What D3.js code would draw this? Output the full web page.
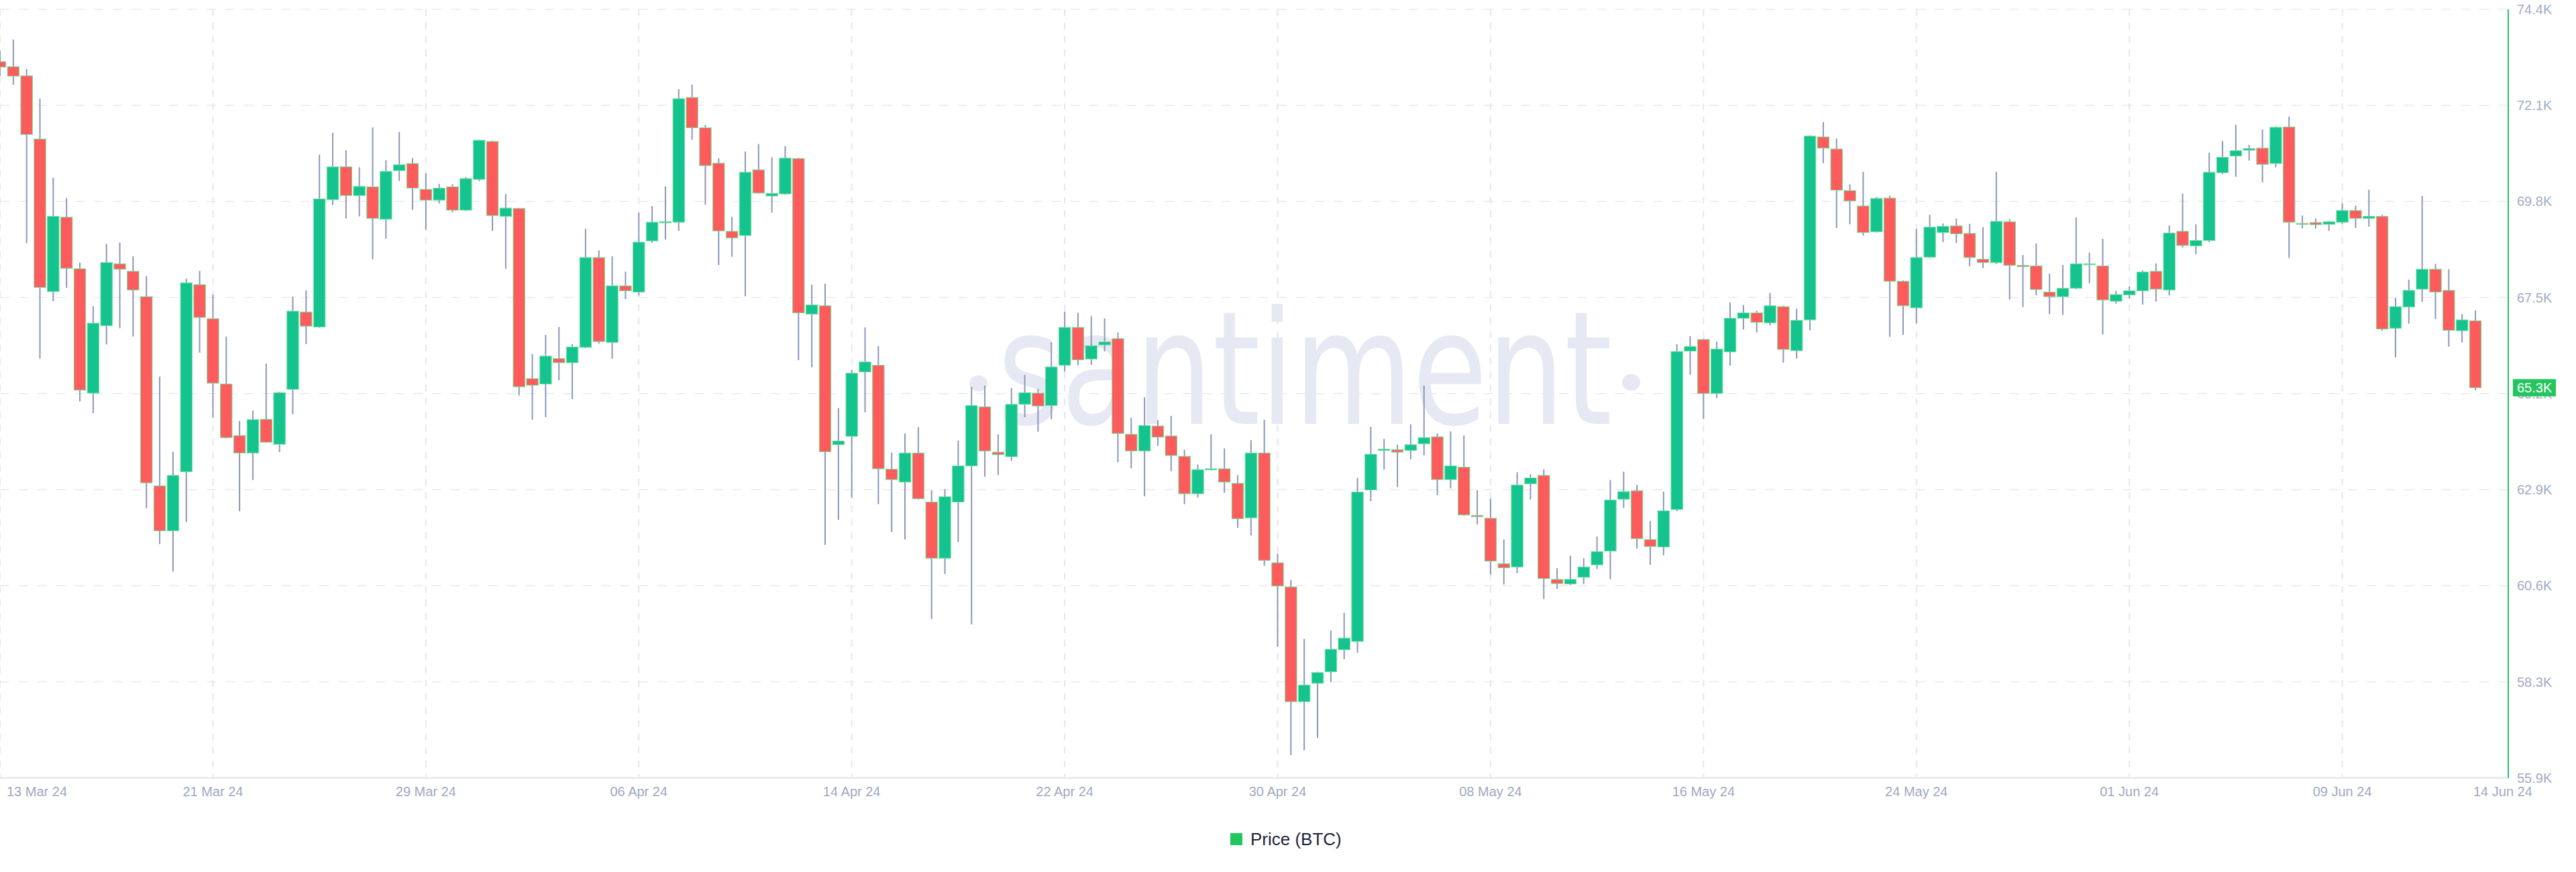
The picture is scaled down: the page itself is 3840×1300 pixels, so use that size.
<!DOCTYPE html>
<html><head><meta charset="utf-8">
<script src="https://cdn.jsdelivr.net/npm/d3@7"></script>
<style>html,body{margin:0;padding:0;background:#fff;} svg{display:block;}</style>
</head><body>
<svg id="chart" width="3840" height="1300"></svg>
<script>
// ---- data (12h BTC candles) ----
const times = [
"2024-03-13 00","2024-03-13 12","2024-03-14 00","2024-03-14 12","2024-03-15 00","2024-03-15 12","2024-03-16 00","2024-03-16 12","2024-03-17 00","2024-03-17 12",
"2024-03-18 00","2024-03-18 12","2024-03-19 00","2024-03-19 12","2024-03-20 00","2024-03-20 12","2024-03-21 00","2024-03-21 12","2024-03-22 00","2024-03-22 12",
"2024-03-23 00","2024-03-23 12","2024-03-24 00","2024-03-24 12","2024-03-25 00","2024-03-25 12","2024-03-26 00","2024-03-26 12","2024-03-27 00","2024-03-27 12",
"2024-03-28 00","2024-03-28 12","2024-03-29 00","2024-03-29 12","2024-03-30 00","2024-03-30 12","2024-03-31 00","2024-03-31 12","2024-04-01 00","2024-04-01 12",
"2024-04-02 00","2024-04-02 12","2024-04-03 00","2024-04-03 12","2024-04-04 00","2024-04-04 12","2024-04-05 00","2024-04-05 12","2024-04-06 00","2024-04-06 12",
"2024-04-07 00","2024-04-07 12","2024-04-08 00","2024-04-08 12","2024-04-09 00","2024-04-09 12","2024-04-10 00","2024-04-10 12","2024-04-11 00","2024-04-11 12",
"2024-04-12 00","2024-04-12 12","2024-04-13 00","2024-04-13 12","2024-04-14 00","2024-04-14 12","2024-04-15 00","2024-04-15 12","2024-04-16 00","2024-04-16 12",
"2024-04-17 00","2024-04-17 12","2024-04-18 00","2024-04-18 12","2024-04-19 00","2024-04-19 12","2024-04-20 00","2024-04-20 12","2024-04-21 00","2024-04-21 12",
"2024-04-22 00","2024-04-22 12","2024-04-23 00","2024-04-23 12","2024-04-24 00","2024-04-24 12","2024-04-25 00","2024-04-25 12","2024-04-26 00","2024-04-26 12",
"2024-04-27 00","2024-04-27 12","2024-04-28 00","2024-04-28 12","2024-04-29 00","2024-04-29 12","2024-04-30 00","2024-04-30 12","2024-05-01 00","2024-05-01 12",
"2024-05-02 00","2024-05-02 12","2024-05-03 00","2024-05-03 12","2024-05-04 00","2024-05-04 12","2024-05-05 00","2024-05-05 12","2024-05-06 00","2024-05-06 12",
"2024-05-07 00","2024-05-07 12","2024-05-08 00","2024-05-08 12","2024-05-09 00","2024-05-09 12","2024-05-10 00","2024-05-10 12","2024-05-11 00","2024-05-11 12",
"2024-05-12 00","2024-05-12 12","2024-05-13 00","2024-05-13 12","2024-05-14 00","2024-05-14 12","2024-05-15 00","2024-05-15 12","2024-05-16 00","2024-05-16 12",
"2024-05-17 00","2024-05-17 12","2024-05-18 00","2024-05-18 12","2024-05-19 00","2024-05-19 12","2024-05-20 00","2024-05-20 12","2024-05-21 00","2024-05-21 12",
"2024-05-22 00","2024-05-22 12","2024-05-23 00","2024-05-23 12","2024-05-24 00","2024-05-24 12","2024-05-25 00","2024-05-25 12","2024-05-26 00","2024-05-26 12",
"2024-05-27 00","2024-05-27 12","2024-05-28 00","2024-05-28 12","2024-05-29 00","2024-05-29 12","2024-05-30 00","2024-05-30 12","2024-05-31 00","2024-05-31 12",
"2024-06-01 00","2024-06-01 12","2024-06-02 00","2024-06-02 12","2024-06-03 00","2024-06-03 12","2024-06-04 00","2024-06-04 12","2024-06-05 00","2024-06-05 12",
"2024-06-06 00","2024-06-06 12","2024-06-07 00","2024-06-07 12","2024-06-08 00","2024-06-08 12","2024-06-09 00","2024-06-09 12","2024-06-10 00","2024-06-10 12",
"2024-06-11 00","2024-06-11 12","2024-06-12 00","2024-06-12 12","2024-06-13 00","2024-06-13 12","2024-06-14 00"
];
const open = [73140,73020,72800,71280,67610,69400,68160,65170,66790,68280,
68100,67490,62940,61860,63280,67780,66960,65390,64150,63730,
64540,63940,65260,67120,66760,69820,70610,69920,70130,69350,
70520,70690,70070,69810,70130,69570,70310,71220,69420,69610,
65520,65390,66000,65900,66270,68430,66390,67750,67600,68830,
69280,69280,72280,71550,70700,69060,68960,70540,69910,69960,
70810,67070,67270,63930,64130,65680,65840,63340,63030,63730,
62550,61200,62550,63420,64840,63750,63640,64900,65170,64870,
65840,66750,65990,66330,66480,64180,63780,64380,64140,63650,
62750,63330,63350,63000,62170,63730,61090,60510,57750,58190,
58470,59000,59200,62840,63790,63810,63790,63950,64120,63090,
63390,62230,62160,61070,60990,62990,63190,60690,60580,60740,
61040,61370,62620,62820,61650,61470,62370,66180,66460,65160,
66160,66970,67100,66860,67250,66190,66930,71330,71040,70040,
69670,69050,69860,67860,67220,68440,69030,69190,69010,68390,
68310,69290,68240,68230,67600,67490,67690,68270,68230,67380,
67530,67630,68100,67650,69060,68710,68840,70470,70870,71010,
71060,70690,71570,69250,69270,69230,69280,69560,69370,69420,
66730,67240,67670,68150,67640,66670,66910];
const high = [73410,73670,72960,72250,70350,69860,68310,67260,68760,68790,
68460,67980,65570,63760,67920,68110,67540,66530,64500,64750,
65880,65200,67490,67640,70900,71430,71010,70600,71560,70770,
71450,70820,70460,70200,70190,70370,71260,71240,69960,69620,
66110,66570,66760,66350,69120,68600,68460,68090,69510,69670,
70140,72480,72590,71620,70820,69410,70980,71160,70840,71110,
70830,67780,67800,64810,65730,66750,66300,63740,64200,64350,
62840,62860,64030,65320,65350,64180,65290,65610,65270,66400,
67130,67100,67020,66970,66630,64580,65070,64520,64620,63810,
63450,64180,63840,63200,64040,64530,61310,60680,59260,58470,
59460,59890,63130,64360,64070,63930,64420,65350,64200,64250,
64150,62840,62630,61650,63270,63220,63340,60960,61260,61200,
61720,63080,63280,62960,62100,62800,66350,66540,66480,66410,
67350,67290,67150,67580,67270,67200,71370,71690,71290,70190,
70490,69890,69920,67880,69120,69460,69250,69370,69240,69160,
70490,69350,68490,68770,68040,68250,69390,68550,68880,67630,
67740,68120,68290,69200,69970,69230,70950,71230,71620,71140,
71510,71580,71820,69440,69370,69310,69730,69680,70060,69460,
67460,67900,69910,68280,68150,67070,67160];
const low = [72800,72580,68780,66000,67380,67700,64970,64690,66340,66730,
66530,62400,61540,60880,62070,66140,64580,64080,62330,63080,
63980,63750,64660,66350,66740,69690,69370,69420,68390,68880,
70270,69580,69100,69730,69520,69550,70270,69070,68160,65110,
64530,64590,65480,65030,66250,66360,66000,67430,67520,68780,
68860,69070,71260,69700,68250,68450,67500,69970,69510,69940,
65960,65790,61520,62120,62660,64710,62500,61830,61650,62610,
59740,60820,61590,59610,63160,63200,63540,64590,64240,64540,
65690,65840,65850,66170,63510,63360,62690,63900,63290,62500,
62660,63310,62770,61930,61750,61020,59070,56470,56580,56880,
58220,58770,58930,62570,63330,62910,63580,63670,62720,62880,
62220,62010,60810,60570,60840,62610,60220,60460,60550,60580,
60940,60700,62410,61430,61040,61270,62330,65610,64550,65050,
65830,66700,66630,66800,65900,66000,66680,70700,69140,69230,
68960,69030,66520,66570,66850,68420,68800,68780,68220,68180,
68270,67420,67240,67520,67070,67050,67670,67810,66580,67320,
67440,67300,67370,67520,68670,68510,68800,70430,70370,70760,
70240,70600,68420,69130,69130,69070,69240,69140,69170,66670,
66030,66840,67360,66950,66290,66390,65240];
const close = [73010,72790,71390,67710,69420,68170,65240,66850,68310,68150,
67650,63010,61860,63190,67820,66990,65410,64100,63730,64530,
63990,65180,67140,66780,69840,70610,69920,70140,69370,70500,
70660,70100,69810,70100,69570,70330,71250,69440,69620,65320,
65360,66060,65900,66280,68430,66410,67750,67630,68800,69280,
69290,72250,71550,70640,69070,68900,70480,69980,69970,70820,
67100,67290,63760,64020,65650,65920,63350,63090,63730,62630,
61200,62680,63420,64870,63780,63690,64900,65180,64860,65800,
66750,65970,66310,66400,64200,63780,64390,64110,63670,62750,
63330,63350,63030,62150,63730,61150,60530,57750,58150,58450,
59010,59280,62790,63700,63820,63750,63930,64100,63090,63420,
62240,62200,61130,60970,62960,63130,60710,60590,60690,60990,
61360,62600,62800,61670,61480,62340,66170,66290,65160,66230,
66970,67100,66870,67270,66220,66920,71350,71060,70050,69790,
69030,69850,67860,67270,68430,69160,69180,69000,68430,68310,
69300,68240,68210,67660,67490,67690,68280,68280,67410,67540,
67630,68080,67670,69020,68720,68840,70480,70840,71000,71050,
70670,71560,69280,69230,69220,69290,69560,69370,69420,66710,
67250,67640,68150,67600,66680,66930,65300];

const xTickDates = ["2024-03-13","2024-03-21","2024-03-29","2024-04-06","2024-04-14","2024-04-22","2024-04-30","2024-05-08","2024-05-16","2024-05-24","2024-06-01","2024-06-09"];
const xTickLabels = ["13 Mar 24","21 Mar 24","29 Mar 24","06 Apr 24","14 Apr 24","22 Apr 24","30 Apr 24","08 May 24","16 May 24","24 May 24","01 Jun 24","09 Jun 24"];
const xEndDate = "2024-06-14";
const xEndLabel = "14 Jun 24";
const yDomain = [55916, 74400];
const yTickLabels = ["55.9K","58.3K","60.6K","62.9K","65.2K","67.5K","69.8K","72.1K","74.4K"];
const seriesName = "Price (BTC)";
const lastPriceLabel = "65.3K";

// ---- layout ----
const FONT = "'Liberation Sans', Arial, Helvetica, sans-serif";
const plotLeft = 0, plotRight = 3739, plotTop = 13.8, plotBottom = 1159.8;
const UP = "#15c38e", DOWN = "#fd5b5c", WICK = "#8d96ba", EDGE = "#74e09c", ACCENT = "#22c55e";

const parseT = d3.utcParse("%Y-%m-%d %H");
const parseD = d3.utcParse("%Y-%m-%d");
const data = times.map((t, i) => ({t: parseT(t), o: open[i], h: high[i], l: low[i], c: close[i]}));

const x = d3.scaleUtc().domain([parseT(times[0]), parseT(times[times.length - 1])]).range([0, 3690]);
const y = d3.scaleLinear().domain(yDomain).range([plotBottom, plotTop]);

const svg = d3.select("#chart");
svg.append("rect").attr("width", 3840).attr("height", 1300).attr("fill", "#fff");

// horizontal grid
const yTickVals = d3.range(yTickLabels.length).map(i => yDomain[0] + i * (yDomain[1] - yDomain[0]) / (yTickLabels.length - 1));
svg.append("g").selectAll("line").data(yTickVals).join("line")
  .attr("x1", plotLeft).attr("x2", plotRight)
  .attr("y1", d => y(d)).attr("y2", d => y(d))
  .attr("stroke", "#e7e9f2").attr("stroke-width", 1.5).attr("stroke-dasharray", "14 14");

// vertical grid
svg.append("g").selectAll("line").data(xTickDates).join("line")
  .attr("x1", d => x(parseD(d))).attr("x2", d => x(parseD(d)))
  .attr("y1", plotTop).attr("y2", plotBottom)
  .attr("stroke", "#e3e6f1").attr("stroke-width", 2).attr("stroke-dasharray", "10 10");

// watermark
const wm = svg.append("g").attr("fill", "#e6e9f3");
wm.append("ellipse").attr("cx", 1458.5).attr("cy", 571.5).attr("rx", 13.5).attr("ry", 12);
wm.append("text").attr("x", 1487).attr("y", 632).attr("font-family", "'DejaVu Sans', sans-serif")
  .attr("font-size", 236).attr("textLength", 916).attr("lengthAdjust", "spacingAndGlyphs").text("santiment");
wm.append("ellipse").attr("cx", 2431.5).attr("cy", 570).attr("rx", 13.5).attr("ry", 12.5);

// candles
const bw = 17.4;
const cg = svg.append("g");
cg.selectAll("line.wick").data(data).join("line").attr("class", "wick")
  .attr("x1", d => x(d.t)).attr("x2", d => x(d.t))
  .attr("y1", d => y(d.h)).attr("y2", d => y(d.l))
  .attr("stroke", WICK).attr("stroke-width", 2);
cg.selectAll("rect.body").data(data).join("rect").attr("class", "body")
  .attr("x", d => x(d.t) - bw / 2).attr("width", bw)
  .attr("y", d => y(Math.max(d.o, d.c)))
  .attr("height", d => Math.max(1.5, Math.abs(y(d.o) - y(d.c))))
  .attr("fill", d => d.c >= d.o ? UP : DOWN)
  .attr("stroke", EDGE).attr("stroke-width", 1);

// bottom axis line
svg.append("line").attr("x1", plotLeft).attr("x2", plotRight).attr("y1", plotBottom).attr("y2", plotBottom)
  .attr("stroke", "#e3e7f4").attr("stroke-width", 2.5);
// right axis line
svg.append("line").attr("x1", plotRight).attr("x2", plotRight).attr("y1", plotTop).attr("y2", plotBottom)
  .attr("stroke", ACCENT).attr("stroke-width", 2);

// y labels
svg.append("g").selectAll("text").data(yTickVals).join("text")
  .attr("x", 3752).attr("y", d => y(d)).attr("dy", "0.35em")
  .attr("font-family", FONT).attr("font-size", 20).attr("fill", "#a2aac5")
  .text((d, i) => yTickLabels[i]);

// x labels
const xl = svg.append("g").attr("font-family", FONT).attr("font-size", 20).attr("fill", "#9fa8c2");
xl.selectAll("text").data(xTickDates).join("text")
  .attr("x", (d, i) => i === 0 ? x(parseD(d)) + 10 : x(parseD(d)))
  .attr("y", 1186.5)
  .attr("text-anchor", (d, i) => i === 0 ? "start" : "middle")
  .text((d, i) => xTickLabels[i]);
xl.append("text").attr("x", x(parseD(xEndDate)) - 3).attr("y", 1186.5).attr("text-anchor", "start").text(xEndLabel);

// last price tag
const last = data[data.length - 1];
svg.append("rect").attr("x", 3746).attr("y", y(last.c) - 12.8).attr("width", 64).attr("height", 25.7).attr("fill", ACCENT);
svg.append("text").attr("x", 3752).attr("y", y(last.c)).attr("dy", "0.35em")
  .attr("font-family", FONT).attr("font-size", 20).attr("fill", "#fff").text(lastPriceLabel);

// legend
svg.append("rect").attr("x", 1834).attr("y", 1242).attr("width", 18).attr("height", 18).attr("fill", ACCENT);
svg.append("text").attr("x", 1864).attr("y", 1260).attr("font-family", FONT).attr("font-size", 26)
  .attr("fill", "#1d2236").text(seriesName);
</script>
</body></html>
